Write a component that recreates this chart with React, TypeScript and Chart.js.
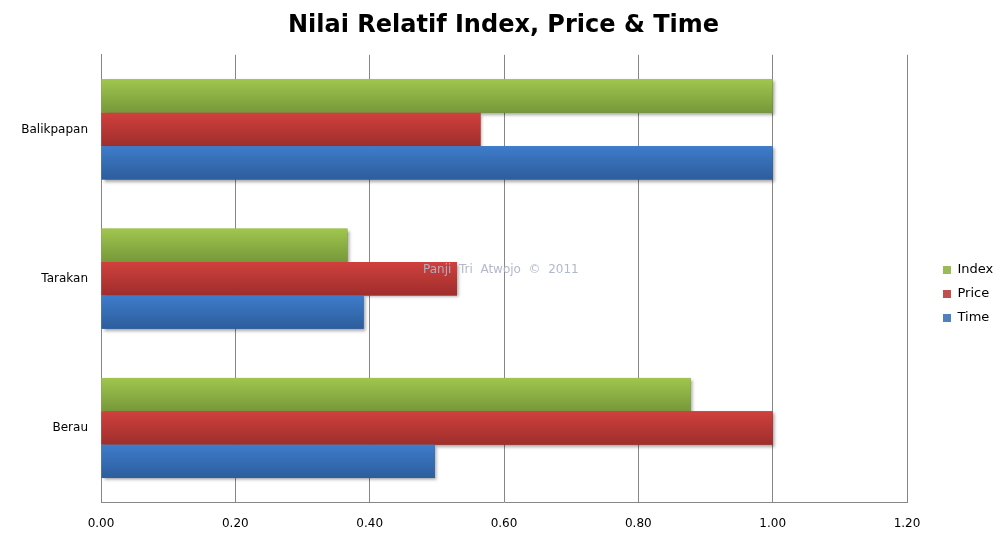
import React, { useEffect, useRef } from "react";
import { Chart, registerables } from "chart.js";

Chart.register(...registerables);

const categories = ["Balikpapan", "Tarakan", "Berau"];
const seriesNames = ["Index", "Price", "Time"];
const indexValues = [1.0, 0.367, 0.878];
const priceValues = [0.565, 0.53, 1.0];
const timeValues = [1.0, 0.391, 0.497];
const xMin = 0;
const xMax = 1.2;
const xStep = 0.2;

const legendColors = ["#9BBB59", "#C0504D", "#4F81BD"];
const gradTop = ["#A0C64E", "#D0403D", "#3E7CCB"];
const gradBottom = ["#76983A", "#9E2E2C", "#2D5D9C"];

const FONT = "'DejaVu Sans', Verdana, sans-serif";
const LEGEND_WIDTH = 100;

const gradientBars = {
  id: "gradientBars",
  afterDatasetsDraw(chart: any) {
    const ctx = chart.ctx;
    const area = chart.chartArea;
    ctx.save();
    ctx.beginPath();
    ctx.rect(area.left, area.top - 2, area.right - area.left + 10, area.bottom - area.top + 4);
    ctx.clip();
    chart.data.datasets.forEach((ds: any, di: number) => {
      const meta = chart.getDatasetMeta(di);
      if (meta.hidden) return;
      meta.data.forEach((el: any) => {
        const { x, y, base, height } = el.getProps(["x", "y", "base", "height"], true);
        const left = Math.min(base, x);
        const w = Math.abs(x - base);
        const top = y - height / 2;
        const g = ctx.createLinearGradient(0, top, 0, top + height);
        g.addColorStop(0, gradTop[di]);
        g.addColorStop(1, gradBottom[di]);
        ctx.save();
        ctx.shadowColor = "rgba(0,0,0,0.35)";
        ctx.shadowBlur = 3;
        ctx.shadowOffsetX = 2;
        ctx.shadowOffsetY = 2;
        ctx.fillStyle = g;
        ctx.fillRect(left, top, w, height);
        ctx.restore();
      });
    });
    ctx.restore();
  },
  afterDraw(chart: any) {
    const ctx = chart.ctx;
    ctx.save();
    ctx.font = `12px ${FONT}`;
    ctx.textBaseline = "middle";
    ctx.textAlign = "left";
    ctx.fillStyle = "rgba(175,180,200,0.95)";
    ctx.fillText("Panji  Tri  Atwojo  ©  2011", 423, 270);
    ctx.restore();
  },
};

const legendPlace = {
  id: "legendPlace",
  beforeLayout(chart: any) {
    const lg = chart.legend;
    if (!lg || lg.__patched) return;
    const origFit = lg.fit;
    lg.fit = function () {
      origFit.call(this);
      this.width = LEGEND_WIDTH;
    };
    lg.__patched = true;
  },
  afterLayout(chart: any) {
    const lg = chart.legend;
    if (!lg) return;
    const pad = 11;
    const dx = 943 - pad - lg.left;
    lg.left += dx;
    lg.right += dx;
    const dy = 270 - 6.5 - pad - lg.top;
    lg.top += dy;
    lg.bottom += dy;
  },
};

export default function App() {
  const canvasRef = useRef<HTMLCanvasElement | null>(null);

  useEffect(() => {
    document.body.style.margin = "0";
    const canvas = canvasRef.current;
    if (!canvas) return;
    const values = [indexValues, priceValues, timeValues];
    const chart = new Chart(canvas, {
      type: "bar",
      data: {
        labels: categories,
        datasets: seriesNames.map((name, i) => ({
          label: name,
          data: values[i],
          backgroundColor: legendColors[i],
          borderWidth: 0,
          barPercentage: 1,
          categoryPercentage: 0.671,
        })),
      },
      options: {
        indexAxis: "y",
        animation: false,
        responsive: false,
        maintainAspectRatio: false,
        layout: { padding: { left: 0, right: 0, top: 0, bottom: 2 } },
        scales: {
          x: {
            min: xMin,
            max: xMax,
            ticks: {
              stepSize: xStep,
              padding: 14,
              color: "#000",
              font: { family: FONT, size: 12 },
              callback: (v: any) => Number(v).toFixed(2),
            },
            grid: { color: "#868686", lineWidth: 1, drawTicks: false },
            border: { color: "#868686", width: 1 },
          },
          y: {
            ticks: {
              padding: 13,
              color: "#000",
              font: { family: FONT, size: 12 },
            },
            grid: { display: false, drawTicks: false },
            border: { color: "#868686", width: 1 },
            afterFit: (scale: any) => {
              scale.width = 101;
            },
          },
        },
        plugins: {
          title: {
            display: true,
            text: "Nilai Relatif Index, Price & Time",
            color: "#000",
            font: { family: FONT, size: 24, weight: "bold" },
            padding: { top: 11, bottom: 15 },
          },
          legend: {
            display: true,
            position: "right",
            align: "start",
            labels: {
              boxWidth: 8,
              boxHeight: 8,
              padding: 11,
              color: "#000",
              font: { family: FONT, size: 13 },
            },
          },
          tooltip: { enabled: false },
        },
      },
      plugins: [gradientBars, legendPlace],
    } as any);
    return () => chart.destroy();
  }, []);

  return (
    <div style={{ position: "absolute", left: 0, top: 0, width: 1007, height: 547 }}>
      <canvas ref={canvasRef} width={1007} height={547} />
    </div>
  );
}
